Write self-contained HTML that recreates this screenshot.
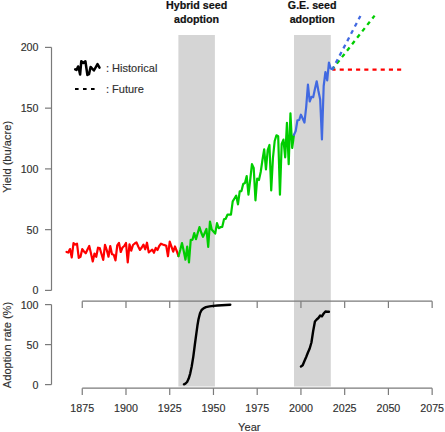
<!DOCTYPE html>
<html><head><meta charset="utf-8"><style>
html,body{margin:0;padding:0;background:#fff;width:445px;height:432px;overflow:hidden}
svg{display:block}
</style></head><body>
<svg width="445" height="432" viewBox="0 0 445 432">
<rect x="178.4" y="35" width="36.5" height="351.5" fill="#d5d5d5"/>
<rect x="294.0" y="35" width="36.8" height="351.5" fill="#d5d5d5"/>
<g stroke="#7a7a7a" stroke-width="1.2" fill="none">
<line x1="51.5" y1="47.4" x2="51.5" y2="290.4"/>
<line x1="45" y1="290.40" x2="51.5" y2="290.40"/>
<line x1="45" y1="229.65" x2="51.5" y2="229.65"/>
<line x1="45" y1="168.90" x2="51.5" y2="168.90"/>
<line x1="45" y1="108.15" x2="51.5" y2="108.15"/>
<line x1="45" y1="47.40" x2="51.5" y2="47.40"/>
<line x1="51.5" y1="304.6" x2="51.5" y2="384.6"/>
<line x1="45" y1="384.60" x2="51.5" y2="384.60"/>
<line x1="45" y1="344.60" x2="51.5" y2="344.60"/>
<line x1="45" y1="304.60" x2="51.5" y2="304.60"/>
<line x1="82.25" y1="301.2" x2="432.15" y2="301.2"/>
<line x1="82.25" y1="301.2" x2="82.25" y2="308.00"/>
<line x1="125.99" y1="301.2" x2="125.99" y2="308.00"/>
<line x1="169.73" y1="301.2" x2="169.73" y2="308.00"/>
<line x1="213.46" y1="301.2" x2="213.46" y2="308.00"/>
<line x1="257.20" y1="301.2" x2="257.20" y2="308.00"/>
<line x1="300.94" y1="301.2" x2="300.94" y2="308.00"/>
<line x1="344.68" y1="301.2" x2="344.68" y2="308.00"/>
<line x1="388.41" y1="301.2" x2="388.41" y2="308.00"/>
<line x1="432.15" y1="301.2" x2="432.15" y2="308.00"/>
<line x1="82.25" y1="388.2" x2="432.15" y2="388.2"/>
<line x1="82.25" y1="388.2" x2="82.25" y2="395.00"/>
<line x1="125.99" y1="388.2" x2="125.99" y2="395.00"/>
<line x1="169.73" y1="388.2" x2="169.73" y2="395.00"/>
<line x1="213.46" y1="388.2" x2="213.46" y2="395.00"/>
<line x1="257.20" y1="388.2" x2="257.20" y2="395.00"/>
<line x1="300.94" y1="388.2" x2="300.94" y2="395.00"/>
<line x1="344.68" y1="388.2" x2="344.68" y2="395.00"/>
<line x1="388.41" y1="388.2" x2="388.41" y2="395.00"/>
<line x1="432.15" y1="388.2" x2="432.15" y2="395.00"/>
</g>
<g font-family="Liberation Sans, sans-serif" font-size="10.7" fill="#303030" stroke="#303030" stroke-width="0.15">
<text x="38.5" y="294.30" text-anchor="end">0</text>
<text x="38.5" y="233.55" text-anchor="end">50</text>
<text x="38.5" y="172.80" text-anchor="end">100</text>
<text x="38.5" y="112.05" text-anchor="end">150</text>
<text x="38.5" y="51.30" text-anchor="end">200</text>
<text x="38.5" y="388.50" text-anchor="end">0</text>
<text x="38.5" y="348.50" text-anchor="end">50</text>
<text x="38.5" y="308.50" text-anchor="end">100</text>
<text x="82.25" y="412.2" text-anchor="middle">1875</text>
<text x="125.99" y="412.2" text-anchor="middle">1900</text>
<text x="169.73" y="412.2" text-anchor="middle">1925</text>
<text x="213.46" y="412.2" text-anchor="middle">1950</text>
<text x="257.20" y="412.2" text-anchor="middle">1975</text>
<text x="300.94" y="412.2" text-anchor="middle">2000</text>
<text x="344.68" y="412.2" text-anchor="middle">2025</text>
<text x="388.41" y="412.2" text-anchor="middle">2050</text>
<text x="432.15" y="412.2" text-anchor="middle">2075</text>
<text x="249.3" y="430.7" text-anchor="middle" font-size="11.1">Year</text>
<text transform="translate(10.6,156.8) rotate(-90)" text-anchor="middle" font-size="11.1">Yield (bu/acre)</text>
<text transform="translate(10.6,345) rotate(-90)" text-anchor="middle" font-size="11.1">Adoption rate (%)</text>
<text x="106" y="71.8" font-size="11">: Historical</text>
<text x="106" y="92.6" font-size="11">: Future</text>
</g>
<g font-family="Liberation Sans, sans-serif" font-size="10.7" font-weight="bold" fill="#111" stroke="#111" stroke-width="0.2" text-anchor="middle">
<text x="196.6" y="9">Hybrid seed</text><text x="196.6" y="22.5">adoption</text>
<text x="312.2" y="9">G.E. seed</text><text x="312.2" y="22.5">adoption</text>
</g>
<polyline points="75.20,69.30 76.50,70.00 78.10,66.50 78.90,68.90 80.10,74.60 81.30,61.20 83.30,63.00 85.40,61.20 87.40,75.00 89.00,74.20 90.60,66.90 93.90,70.50 97.50,64.10 99.50,67.70" fill="none" stroke="#000" stroke-width="2.5" stroke-linejoin="round" stroke-linecap="round"/>
<line x1="75" y1="89.1" x2="95" y2="89.1" stroke="#000" stroke-width="2" stroke-dasharray="3.6 4.4"/>
<g fill="none" stroke-width="2.3" stroke-linecap="butt" stroke-dasharray="4.1 4.1" stroke-dashoffset="0.95">
<line x1="332.43" y1="69.6" x2="402" y2="69.6" stroke="#ff0000"/>
<line x1="332.43" y1="69.30" x2="374.6" y2="15.6" stroke="#00cd00"/>
<line x1="332.43" y1="69.30" x2="360.4" y2="16.0" stroke="#4169e1"/>
</g>
<g fill="none" stroke-width="2.2" stroke-linejoin="round" stroke-linecap="round">
<polyline points="66.50,251.90 68.25,252.60 70.00,249.10 71.75,257.40 73.50,243.20 75.25,244.60 77.00,243.60 78.75,257.80 80.50,256.75 82.25,249.10 84.00,251.50 85.75,253.30 87.50,249.50 89.25,246.00 91.00,253.50 92.75,261.50 94.50,253.60 96.25,256.75 98.00,247.70 99.75,248.10 101.49,254.00 103.24,259.90 104.99,244.90 106.74,250.00 108.49,256.75 110.24,246.00 111.99,254.30 113.74,254.70 115.49,260.40 117.24,245.50 118.99,243.00 120.74,252.00 122.49,247.50 124.24,246.00 125.99,243.00 127.74,262.40 129.49,244.30 131.24,250.60 132.99,245.00 134.74,243.50 136.48,242.30 138.23,246.50 139.98,249.90 141.73,247.50 143.48,244.60 145.23,249.30 146.98,242.70 148.73,252.40 150.48,251.00 152.23,249.60 153.98,252.75 155.73,247.90 157.48,250.00 159.23,246.00 160.98,243.70 162.73,244.50 164.48,245.10 166.23,245.80 167.98,256.20 169.73,241.60 171.47,246.60 173.22,251.70 174.97,246.50 176.72,251.00 178.47,256.20" stroke="#ff0000"/>
<polyline points="178.47,256.20 180.22,250.00 181.97,243.00 183.72,251.00 185.47,259.70 187.22,246.50 188.97,262.50 190.72,239.80 192.47,239.80 194.22,233.10 195.97,239.20 197.72,233.00 199.47,227.10 201.22,232.50 202.97,236.90 204.72,233.00 206.46,229.00 208.21,247.00 209.96,221.60 211.71,229.50 213.46,231.50 215.21,233.60 216.96,223.20 218.71,228.20 220.46,227.20 222.21,226.90 223.96,219.40 225.71,218.80 227.46,214.70 229.21,214.70 230.96,214.70 232.71,201.40 234.46,198.50 236.21,195.60 237.96,204.30 239.71,191.40 241.45,191.10 243.20,184.00 244.95,183.00 246.70,176.00 248.45,194.60 250.20,180.00 251.95,164.20 253.70,168.00 255.45,200.30 257.20,178.50 258.95,180.00 260.70,172.00 262.45,160.00 264.20,149.30 265.95,169.50 267.70,150.00 269.45,145.00 271.20,190.50 272.95,158.00 274.69,141.00 276.44,135.30 278.19,136.30 279.94,194.60 281.69,144.00 283.44,139.60 285.19,157.30 286.94,122.90 288.69,164.20 290.44,113.30 292.19,148.00 293.94,134.90" stroke="#00cd00"/>
<polyline points="293.94,134.90 295.69,131.00 297.44,120.30 299.19,120.00 300.94,114.70 302.69,118.50 304.44,122.60 306.19,107.00 307.94,84.70 309.69,101.50 311.43,96.80 313.18,97.20 314.93,89.00 316.68,81.30 318.43,91.00 320.18,99.50 321.93,139.40 323.68,86.00 325.43,72.00 327.18,80.30 328.93,62.60 330.68,68.50 332.43,69.30" stroke="#4169e1"/>
</g>
<g fill="none" stroke="#000" stroke-width="2.4" stroke-linejoin="round" stroke-linecap="round">
<polyline points="183.90,384.30 185.40,383.60 187.10,382.00 188.70,378.60 190.20,373.60 191.70,366.50 193.30,356.60 194.80,345.00 196.40,333.20 197.40,325.80 198.50,319.30 200.00,313.20 201.60,310.00 203.50,308.30 205.90,307.20 209.50,306.40 213.30,305.90 217.50,305.50 221.80,305.20 226.00,305.00 230.30,304.70"/>
<polyline points="300.94,366.50 302.69,365.30 304.44,361.00 306.19,357.00 307.94,352.50 309.69,348.50 311.43,342.50 313.18,331.00 314.93,321.50 316.68,319.50 318.43,318.00 320.18,315.50 321.93,316.30 323.68,313.50 325.43,311.50 327.18,311.80 328.93,311.80"/>
</g>
</svg>
</body></html>
